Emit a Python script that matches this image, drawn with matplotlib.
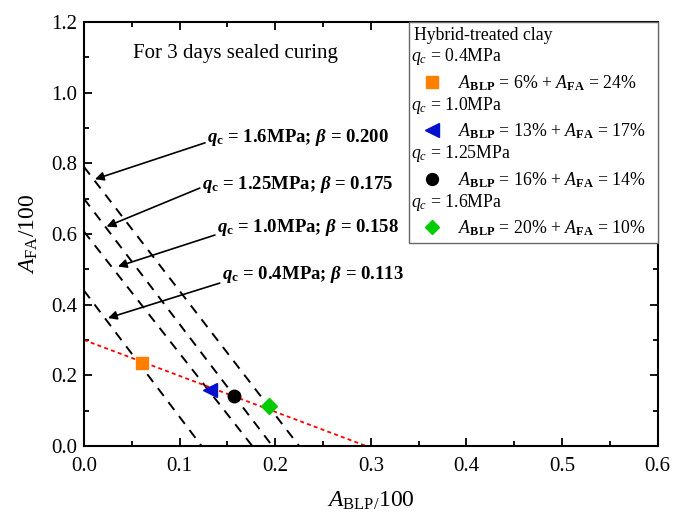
import matplotlib
matplotlib.use("Agg")
import matplotlib.pyplot as plt
import matplotlib.text as mtext
from matplotlib.ticker import MultipleLocator, FormatStrFormatter

plt.rcParams['font.family'] = ['Liberation Serif', 'DejaVu Serif']
plt.rcParams['mathtext.fontset'] = 'custom'
plt.rcParams['mathtext.rm'] = 'Liberation Serif'
plt.rcParams['mathtext.it'] = 'Liberation Serif:italic'
plt.rcParams['mathtext.bf'] = 'Liberation Serif:bold'
plt.rcParams['mathtext.bfit'] = 'Liberation Serif:italic:bold'

# ---- data ----
qc_labels = ['0.4MPa', '1.0MPa', '1.25MPa', '1.6MPa']
beta_vals = ['0.113', '0.158', '0.175', '0.200']
line_y_int = [0.44, 0.607, 0.70, 0.79]     # intercept on A_FA axis
line_x_int = [0.123, 0.176, 0.197, 0.225]  # intercept on A_BLP axis

pt_blp = [0.061, 0.132, 0.157, 0.194]
pt_fa = [0.234, 0.158, 0.141, 0.113]
blp_pct = [6, 13, 16, 20]
fa_pct = [24, 17, 14, 10]
pt_colors = ['#FF7F00', '#0010CC', '#000000', '#00CC00']
pt_markers = ['s', '<', 'o', 'D']
pt_sizes = [9, 10, 9, 8]

red_x = [0.0, 0.295]
red_y = [0.30, 0.0]

# arrow tips (on dashed lines) and arrow starts (text side), data coords
arrow_tip_x = [0.0251, 0.0355, 0.0237, 0.0115]
arrow_tip_y = [0.362, 0.508, 0.621, 0.755]
arrow_start_x = [0.142, 0.137, 0.1212, 0.1266]
arrow_start_y = [0.461, 0.597, 0.730, 0.858]
label_x = [0.144, 0.139, 0.123, 0.129]
label_y = [0.484, 0.617, 0.739, 0.872]

fig = plt.figure(figsize=(6.88, 5.12), dpi=100)
ax = fig.add_axes([0.122, 0.129, 0.834, 0.828])

# dashed iso-strength lines
for yi, xi in zip(line_y_int, line_x_int):
    ax.plot([0, xi], [yi, 0], color='black', lw=1.4, dashes=(5, 4))

# red dotted line
ax.plot(red_x, red_y, color='#FF0000', lw=1.3, dashes=(2.2, 1.8))

# points
handles_pts = []
for i in range(4):
    h, = ax.plot(pt_blp[i], pt_fa[i], linestyle='none', marker=pt_markers[i],
                 color=pt_colors[i], markersize=pt_sizes[i], zorder=5)
    handles_pts.append(h)

# annotations
for i in range(4):
    ax.annotate('', xy=(arrow_tip_x[i], arrow_tip_y[i]),
                xytext=(arrow_start_x[i], arrow_start_y[i]),
                arrowprops=dict(arrowstyle='-|>', color='black', lw=1.2,
                                mutation_scale=13, shrinkA=0, shrinkB=0))
    ax.text(label_x[i], label_y[i],
            r'$\mathbfit{q}_{\mathbf{c}}$ = ' + qc_labels[i] + r'; $\mathbfit{\beta}$ = ' + beta_vals[i],
            fontsize=13.5, fontweight='bold', ha='left', va='center')

ax.text(0.051, 1.112, 'For 3 days sealed curing', fontsize=15, ha='left', va='center')

# legend with header rows
class HeaderHandle:
    def __init__(self, text):
        self.text = text

class HeaderHandler:
    def legend_artist(self, legend, orig_handle, fontsize, handlebox):
        x0, y0 = -handlebox.xdescent, -handlebox.ydescent
        t = mtext.Text(x0 - 2, y0 + handlebox.height / 2, orig_handle.text,
                       fontsize=fontsize, ha='left', va='center')
        handlebox.add_artist(t)
        return t

handles = []
labels = []
for i in range(4):
    handles.append(HeaderHandle(r'$q_c$ = ' + qc_labels[i]))
    labels.append('')
    handles.append(handles_pts[i])
    labels.append(r'$A_{\mathbf{BLP}}$ = %d%% + $A_{\mathbf{FA}}$ = %d%%' % (blp_pct[i], fa_pct[i]))

leg = ax.legend(handles, labels, handler_map={HeaderHandle: HeaderHandler()},
                title='Hybrid-treated clay', title_fontsize=12.8, fontsize=12.8,
                loc='upper left', bbox_to_anchor=(0.566, 0.0, 0.434, 1.0),
                mode='expand', borderaxespad=0,
                frameon=True, fancybox=False, edgecolor='#666666',
                framealpha=1, alignment='left', handlelength=2.0,
                handletextpad=0.45, labelspacing=0.33, borderpad=0.3,
                markerscale=0.95)
leg.get_frame().set_linewidth(1.0)

ax.set_xlim(0, 0.6)
ax.set_ylim(0, 1.2)
ax.xaxis.set_major_locator(MultipleLocator(0.1))
ax.xaxis.set_minor_locator(MultipleLocator(0.05))
ax.yaxis.set_major_locator(MultipleLocator(0.2))
ax.yaxis.set_minor_locator(MultipleLocator(0.1))
ax.xaxis.set_major_formatter(FormatStrFormatter('%.1f'))
ax.yaxis.set_major_formatter(FormatStrFormatter('%.1f'))
ax.tick_params(which='both', direction='in', top=True, right=True, labelsize=15, width=1.3)
ax.tick_params(which='major', length=6)
ax.tick_params(axis='x', which='major', pad=8)
ax.tick_params(axis='y', which='major', pad=5)
ax.tick_params(which='minor', length=3.5)
for s in ax.spines.values():
    s.set_linewidth(1.5)

ax.set_xlabel(r'$A_{\mathrm{BLP/}}$100', fontsize=17, labelpad=10)
ax.set_ylabel(r'$A_{\mathrm{FA}}$/100', fontsize=17, labelpad=8)

fig.savefig('out.png', dpi=100)
